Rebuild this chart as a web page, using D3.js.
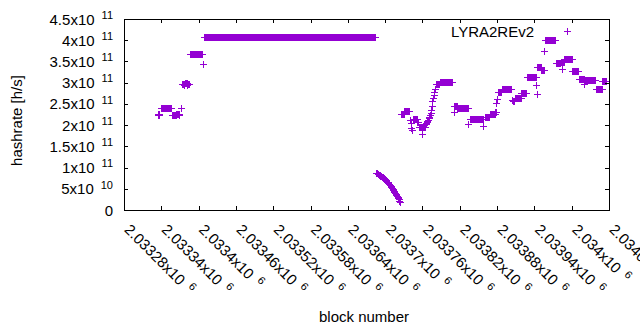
<!DOCTYPE html>
<html>
<head>
<meta charset="utf-8">
<script src="https://cdnjs.cloudflare.com/ajax/libs/d3/7.8.5/d3.min.js"></script>
<style>
body { margin: 0; background: #fff; }
text { font-family: "Liberation Sans", Arial, sans-serif; fill: #000; }
</style>
</head>
<body>
<div id="viz"></div>
<script>
// tick values and labels
var xTicks = [2033280, 2033340, 2033400, 2033460, 2033520, 2033580, 2033640,
              2033700, 2033760, 2033820, 2033880, 2033940, 2034000, 2034060];
var xTickMant = ["2.03328", "2.03334", "2.0334", "2.03346", "2.03352", "2.03358", "2.03364",
                 "2.0337", "2.03376", "2.03382", "2.03388", "2.03394", "2.034", "2.03406"];
var xTickExp = "6";
var yTicks = [0, 0.5e11, 1e11, 1.5e11, 2e11, 2.5e11, 3e11, 3.5e11, 4e11, 4.5e11];
var yTickMant = ["0", "5", "1", "1.5", "2", "2.5", "3", "3.5", "4", "4.5"];
var yTickExp = ["", "10", "11", "11", "11", "11", "11", "11", "11", "11"];

// runs of blocks with the same hashrate (x10^11 h/s)
var runStart = [2033334, 2033335, 2033336, 2033337, 2033339, 2033357, 2033364, 2033369, 2033371,
                2033374, 2033377, 2033378, 2033382, 2033383, 2033386, 2033407, 2033409,
                2033726, 2033731, 2033740, 2033741, 2033742, 2033743, 2033744, 2033752, 2033754,
                2033760, 2033761,
                2033765, 2033766, 2033767, 2033768, 2033769, 2033770, 2033771, 2033772,
                2033773, 2033774, 2033775, 2033776, 2033777, 2033778, 2033779, 2033780,
                2033781, 2033788, 2033810, 2033811, 2033816, 2033834, 2033836, 2033858,
                2033860, 2033868, 2033877, 2033879, 2033880, 2033881, 2033888, 2033904,
                2033905, 2033909, 2033919, 2033928, 2033943, 2033944, 2033945, 2033951,
                2033956, 2033957, 2033974, 2033982, 2033984, 2033985, 2033988, 2034001,
                2034011, 2034020, 2034021, 2034039, 2034049];
var runEnd = [2033334, 2033335, 2033336, 2033337, 2033356, 2033363, 2033368, 2033369, 2033371,
              2033376, 2033377, 2033381, 2033382, 2033385, 2033406, 2033407, 2033684,
              2033730, 2033739, 2033740, 2033741, 2033742, 2033743, 2033751, 2033753, 2033759,
              2033760, 2033764,
              2033765, 2033766, 2033767, 2033768, 2033769, 2033770, 2033771, 2033772,
              2033773, 2033774, 2033775, 2033776, 2033777, 2033778, 2033779, 2033780,
              2033787, 2033808, 2033810, 2033815, 2033833, 2033834, 2033857, 2033858,
              2033867, 2033876, 2033878, 2033879, 2033880, 2033887, 2033903, 2033904,
              2033908, 2033918, 2033927, 2033942, 2033943, 2033944, 2033950, 2033955,
              2033956, 2033973, 2033981, 2033983, 2033984, 2033987, 2034000, 2034010,
              2034019, 2034020, 2034038, 2034048, 2034055];
var runRate = [2.25, 2.27, 2.25, 2.27, 2.41, 2.23, 2.27, 2.23, 2.41,
               2.98, 2.95, 3.00, 2.94, 2.98, 3.67, 3.44, 4.07,
               2.26, 2.33, 2.12, 2.05, 1.94, 1.88, 2.14, 2.07, 1.96,
               1.78, 1.96,
               2.02, 2.05, 2.08, 2.10, 2.13, 2.17, 2.20, 2.24,
               2.29, 2.36, 2.46, 2.56, 2.64, 2.71, 2.78, 2.86,
               2.96, 3.01, 2.30, 2.44, 2.41, 2.02, 2.15, 1.98,
               2.19, 2.27, 2.32, 2.51, 2.62, 2.79, 2.85, 2.585,
               2.56, 2.65, 2.76, 3.13, 2.95, 2.74, 3.38, 3.30,
               3.75, 4.00, 3.46, 3.49, 3.32, 3.49, 3.55, 3.27,
               3.09, 2.97, 3.07, 2.84, 3.05];

// falling stretch, one value per block from declineStart (x10^11 h/s)
var declineStart = 2033685;
var declineRate = [0.87, 0.86, 0.86, 0.85, 0.84, 0.83, 0.82, 0.81, 0.80, 0.79,
                   0.785, 0.77, 0.76, 0.745, 0.73, 0.715, 0.70, 0.685, 0.665, 0.65,
                   0.633, 0.615, 0.595, 0.578, 0.56, 0.54, 0.52, 0.50, 0.48, 0.455,
                   0.434, 0.41, 0.385, 0.36, 0.33, 0.305, 0.28, 0.25, 0.22, 0.19];

var seriesName = "LYRA2REv2";
var color = "#9400d3";

var W = 640, H = 330;
var pl = 124, pr = 609, pt = 19, pb = 210;

var x = d3.scaleLinear().domain([xTicks[0], xTicks[xTicks.length - 1]]).range([pl, pr]);
var y = d3.scaleLinear().domain([0, 4.5e11]).range([pb, pt]);

var svg = d3.select("#viz").append("svg")
    .attr("width", W)
    .attr("height", H);

svg.append("defs").append("clipPath").attr("id", "plot")
    .append("rect")
    .attr("x", pl).attr("y", pt)
    .attr("width", pr - pl + 1).attr("height", pb - pt + 1);

// points
var points = [];
runStart.forEach(function (s, i) {
    for (var b = s; b <= runEnd[i]; b++) points.push({ b: b, r: runRate[i] });
});
declineRate.forEach(function (r, i) {
    points.push({ b: declineStart + i, r: r });
});

function cross(px, py) {
    return "M" + (px - 3.5) + "," + py + "h7M" + px + "," + (py - 3.5) + "v7";
}

svg.append("g")
    .attr("clip-path", "url(#plot)")
    .selectAll("path").data(points)
    .enter().append("path")
    .attr("d", function (d) { return cross(x(d.b) + 0.5, y(d.r * 1e11) + 0.5); })
    .attr("stroke", color)
    .attr("stroke-width", 1)
    .attr("fill", "none")
    .attr("shape-rendering", "crispEdges");

// axes (ticks pointing inward, on all four sides)
function axis(gen, tx, ty) {
    var g = svg.append("g")
        .attr("transform", "translate(" + tx + "," + ty + ")")
        .call(gen.tickSize(-4).tickFormat(""));
    g.select(".domain").remove();
    g.selectAll("line").attr("stroke", "#000").attr("shape-rendering", "crispEdges");
    g.selectAll("text").remove();
    return g;
}
axis(d3.axisBottom(x).tickValues(xTicks), 0, pb);
axis(d3.axisTop(x).tickValues(xTicks.slice(0, -1)), 0, pt);
axis(d3.axisLeft(y).tickValues(yTicks), pl, 0);
axis(d3.axisRight(y).tickValues(yTicks), pr, 0);

svg.append("rect")
    .attr("x", pl + 0.5).attr("y", pt + 0.5)
    .attr("width", pr - pl).attr("height", pb - pt)
    .attr("fill", "none")
    .attr("stroke", "#000")
    .attr("stroke-width", 1)
    .attr("shape-rendering", "crispEdges");

// y tick labels
var yl = svg.append("g").selectAll("text").data(yTicks)
    .enter().append("text")
    .attr("x", 113)
    .attr("y", function (d) { return y(d) + 5.5; })
    .attr("text-anchor", "end")
    .attr("font-size", 15);
yl.append("tspan").text(function (d, i) { return yTickMant[i] + (yTickExp[i] ? "x10" : ""); });
yl.append("tspan")
    .attr("dx", function (d, i) { return yTickExp[i] ? 7 : 0; })
    .attr("dy", -5.7)
    .attr("font-size", 11)
    .text(function (d, i) { return yTickExp[i]; });

// x tick labels, rotated
var xl = svg.append("g").selectAll("text").data(xTicks)
    .enter().append("text")
    .attr("transform", function (d) {
        return "translate(" + (x(d) - 0.5) + ",230.6) rotate(45)";
    })
    .attr("font-size", 15);
xl.append("tspan").text(function (d, i) { return xTickMant[i] + "x10"; });
xl.append("tspan")
    .attr("dx", 7)
    .attr("dy", -5.7)
    .attr("font-size", 11)
    .text(xTickExp);

// axis titles
svg.append("text")
    .attr("transform", "translate(22,120.5) rotate(-90)")
    .attr("text-anchor", "middle")
    .attr("font-size", 15)
    .text("hashrate [h/s]");

svg.append("text")
    .attr("x", 364)
    .attr("y", 322)
    .attr("text-anchor", "middle")
    .attr("font-size", 15)
    .text("block number");

// key
svg.append("text")
    .attr("x", 534)
    .attr("y", 37)
    .attr("text-anchor", "end")
    .attr("font-size", 15)
    .text(seriesName);
svg.append("path")
    .attr("d", cross(567.5, 31.5))
    .attr("stroke", color)
    .attr("fill", "none")
    .attr("shape-rendering", "crispEdges");
</script>
</body>
</html>
